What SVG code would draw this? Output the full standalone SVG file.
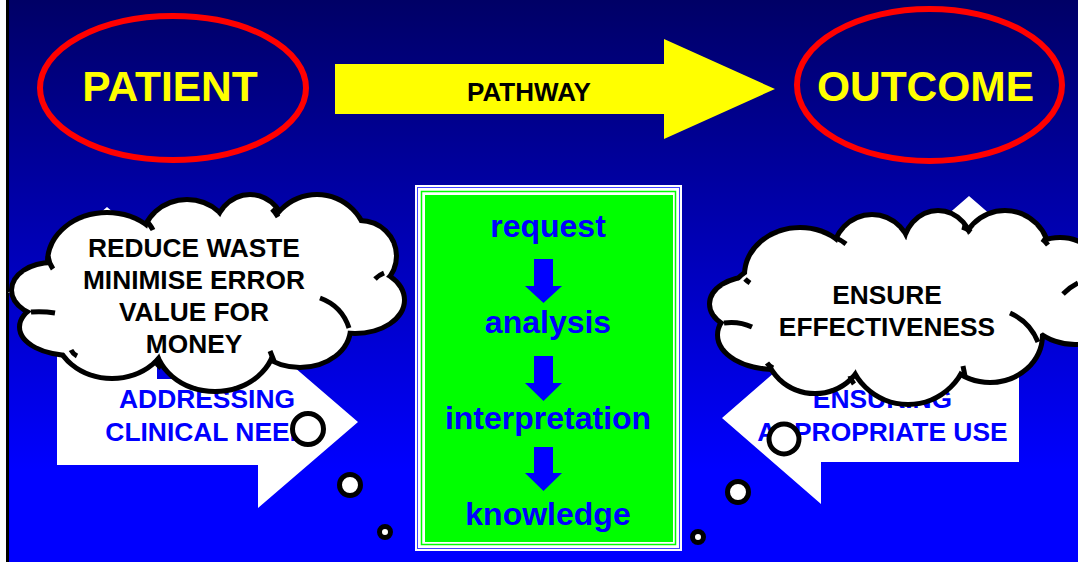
<svg xmlns="http://www.w3.org/2000/svg" xmlns:xlink="http://www.w3.org/1999/xlink" width="1078" height="562" viewBox="0 0 1078 562">
<style>
  text { font-family: "Liberation Sans", Arial, sans-serif; font-weight: bold; text-anchor: middle; }
  .oval { fill: none; stroke: #FF0000; stroke-width: 6; }
  .ovaltext { fill: #FFFF00; font-size: 42.5px; }
  .cloudtext { fill: #000000; font-size: 26.3px; }
  .armtext { fill: #0000FF; font-size: 26.4px; }
  .steptext { fill: #0000FF; font-size: 32px; }
  .stub { fill: none; stroke: #000; stroke-width: 5; }
  .bubble { fill: #FFFFFF; stroke: #000; stroke-width: 5; }
  .larrow { fill: #FFFFFF; }
  .darrow { fill: #0000FF; }
</style>
<defs>
  <linearGradient id="bg" x1="0" y1="0" x2="0" y2="470" gradientUnits="userSpaceOnUse">
    <stop offset="0" stop-color="#000066"/>
    <stop offset="1" stop-color="#0000FF"/>
  </linearGradient>
  <g id="cloudL">
    <ellipse cx="52" cy="290" rx="38" ry="25"/>
    <ellipse cx="107" cy="262" rx="57" ry="47"/>
    <ellipse cx="187" cy="240" rx="42" ry="38"/>
    <ellipse cx="250" cy="235" rx="34" ry="38"/>
    <ellipse cx="317" cy="245" rx="48" ry="48"/>
    <ellipse cx="360" cy="256" rx="34" ry="33"/>
    <ellipse cx="355" cy="300" rx="47" ry="31"/>
    <ellipse cx="300" cy="328" rx="48" ry="37"/>
    <ellipse cx="215" cy="340" rx="58" ry="49"/>
    <ellipse cx="112" cy="330" rx="55" ry="46"/>
    <ellipse cx="72" cy="327" rx="50" ry="26"/>
    <ellipse cx="210" cy="290" rx="150" ry="65"/>
  </g>
  <g id="cloudR">
    <ellipse cx="752" cy="304" rx="40" ry="25"/>
    <ellipse cx="775" cy="335" rx="55" ry="32"/>
    <ellipse cx="815" cy="345" rx="48" ry="46"/>
    <ellipse cx="908" cy="345" rx="58" ry="57"/>
    <ellipse cx="990" cy="335" rx="50" ry="45"/>
    <ellipse cx="1075" cy="300" rx="50" ry="42"/>
    <ellipse cx="1060" cy="285" rx="45" ry="45"/>
    <ellipse cx="1005" cy="255" rx="42" ry="42"/>
    <ellipse cx="938" cy="250" rx="33" ry="37"/>
    <ellipse cx="872" cy="255" rx="37" ry="38"/>
    <ellipse cx="800" cy="275" rx="53" ry="45"/>
    <ellipse cx="900" cy="300" rx="170" ry="60"/>
  </g>
</defs>

<rect x="0" y="0" width="1078" height="562" fill="#FFFFFF"/>
<rect x="9" y="0" width="1069" height="562" fill="url(#bg)"/>
<rect x="6" y="0" width="3" height="562" fill="#000000"/>

<g id="patient">
  <ellipse class="oval" cx="173" cy="88" rx="133" ry="72"/>
  <text class="ovaltext" x="170" y="101">PATIENT</text>
</g>

<g id="outcome">
  <ellipse class="oval" cx="929.5" cy="85" rx="132.5" ry="76"/>
  <text class="ovaltext" x="925.5" y="101">OUTCOME</text>
</g>

<g id="connectors">
  <g id="pathway">
    <polygon points="335,64 664,64 664,39 775,89 664,139 664,114 335,114" fill="#FFFF00"/>
    <text x="529" y="101" style="font-size:26px;fill:#000">PATHWAY</text>
  </g>
</g>

<g id="arrow-left">
  <path class="larrow" d="M107,207 L206,293 L157,293 L157,379 L258,379 L258,336 L358,422 L258,508 L258,465 L57,465 L57,293 L8,293 Z"/>
  <text class="armtext" x="207" y="408">ADDRESSING</text>
  <text class="armtext" x="207" y="441">CLINICAL NEED</text>
</g>

<g id="arrow-right">
  <path class="larrow" d="M969,196 L1068,282 L1019,282 L1019,462 L821,462 L821,504 L722,418 L821,332 L821,375 L919,375 L919,282 L870,282 Z"/>
  <text class="armtext" x="882.5" y="408">ENSURING</text>
  <text class="armtext" x="882.5" y="441">APPROPRIATE USE</text>
</g>

<g id="cloud-left">
  <use xlink:href="#cloudL" fill="#000" stroke="#000" stroke-width="10"/>
  <use xlink:href="#cloudL" fill="#FFF" stroke="none"/>
  <path class="stub" d="M48,256 Q49,263 53,269"/>
  <path class="stub" d="M146,221 Q150,224 153,230"/>
  <path class="stub" d="M272,209 Q275,212 278,217"/>
  <path class="stub" d="M375,279 Q379,275 384,273"/>
  <path class="stub" d="M320,298 Q342,306 349,328"/>
  <path class="stub" d="M270,351 Q272,356 274,361"/>
  <path class="stub" d="M155,360 Q157,365 161,368"/>
  <path class="stub" d="M71,350 Q73,354 77,356"/>
  <path class="stub" d="M31,312 Q43,311 55,313"/>
  <text class="cloudtext" x="194" y="257">REDUCE WASTE</text>
  <text class="cloudtext" x="194" y="289">MINIMISE ERROR</text>
  <text class="cloudtext" x="194" y="321">VALUE FOR</text>
  <text class="cloudtext" x="194" y="353">MONEY</text>
</g>

<g id="cloud-right">
  <use xlink:href="#cloudR" fill="#000" stroke="#000" stroke-width="10"/>
  <use xlink:href="#cloudR" fill="#FFF" stroke="none"/>
  <path class="stub" d="M745,279 Q747,281 750,283"/>
  <path class="stub" d="M836,238 Q841,240 846,244"/>
  <path class="stub" d="M962,227 Q966,228 971,232"/>
  <path class="stub" d="M1042,239 Q1045,241 1048,245"/>
  <path class="stub" d="M1063,294 Q1070,287 1078,283"/>
  <path class="stub" d="M1010,313 Q1030,322 1038,342"/>
  <path class="stub" d="M963,366 Q964,371 965,376"/>
  <path class="stub" d="M850,376 Q851,380 854,384"/>
  <path class="stub" d="M767,363 Q769,366 773,368"/>
  <path class="stub" d="M724,323 Q739,321 752,327"/>
  <text class="cloudtext" x="887" y="304">ENSURE</text>
  <text class="cloudtext" x="887" y="336">EFFECTIVENESS</text>
</g>

<g id="bubbles-left">
  <circle class="bubble" cx="308" cy="429" r="15.5"/>
  <circle class="bubble" cx="350" cy="485" r="10.5"/>
  <circle class="bubble" cx="385" cy="532" r="5.5"/>
</g>

<g id="bubbles-right">
  <circle class="bubble" cx="784" cy="439" r="15"/>
  <circle class="bubble" cx="738" cy="492" r="10.5"/>
  <circle class="bubble" cx="698" cy="537" r="5.5"/>
</g>

<g id="process-box">
  <rect x="415" y="185" width="267" height="366" fill="#FFFFFF"/>
  <rect x="417.5" y="187.5" width="262" height="361" fill="none" stroke="#4040FF" stroke-width="1"/>
  <rect x="421.5" y="191.5" width="254" height="353" fill="none" stroke="#00FF00" stroke-width="1.5"/>
  <rect x="425" y="195" width="248" height="347" fill="#00FF00"/>
  <text class="steptext" x="548" y="237">request</text>
  <polygon class="darrow" points="534,259 553,259 553,286 562,286 543.5,303 525,286 534,286"/>
  <text class="steptext" x="548" y="333">analysis</text>
  <polygon class="darrow" points="534,356 553,356 553,383 562,383 543.5,401 525,383 534,383"/>
  <text class="steptext" x="548" y="429">interpretation</text>
  <polygon class="darrow" points="534,447 553,447 553,473 562,473 543.5,491 525,473 534,473"/>
  <text class="steptext" x="548" y="525">knowledge</text>
</g>
</svg>
